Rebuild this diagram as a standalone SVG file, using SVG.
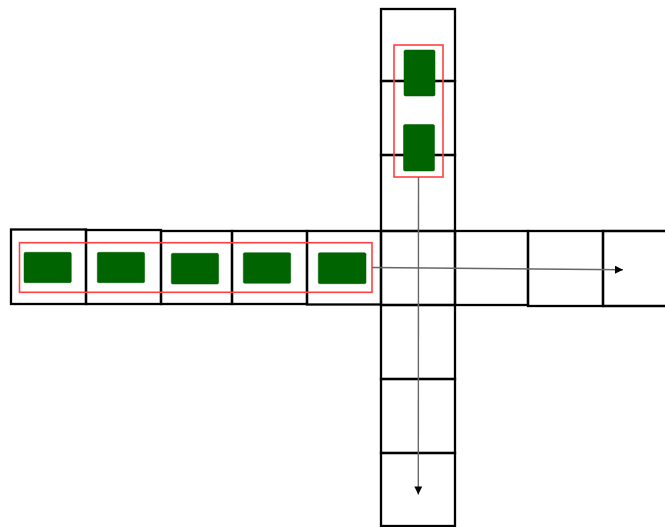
<svg xmlns="http://www.w3.org/2000/svg" width="665" height="527" viewBox="0 0 665 527">
<style>
.cell{fill:none;stroke:#000;stroke-width:2.3;stroke-linejoin:miter}
.car{fill:#006400;stroke:#005a00;stroke-width:0.5}
.grp{fill:none;stroke:#ff4040;stroke-width:1.6}
.conn{stroke:#666;stroke-width:1.4;fill:none}
</style>
<defs>
<marker id="ah" viewBox="0 0 10 10" refX="10" refY="5" markerWidth="9" markerHeight="8" markerUnits="userSpaceOnUse" orient="auto">
<path d="M0,0 L10,5 L0,10 z" fill="#000"/>
</marker>
</defs>
<rect width="665" height="527" fill="#fff"/>
<g id="road-column">
<rect class="cell" x="381" y="9" width="74" height="72"/>
<rect class="cell" x="381" y="81" width="74" height="74"/>
<rect class="cell" x="381" y="155" width="74" height="76"/>
<rect class="cell" x="381" y="305" width="74" height="74"/>
<rect class="cell" x="381" y="379" width="74" height="74"/>
<rect class="cell" x="381" y="453" width="74" height="73"/>
</g>
<g id="intersection">
<rect class="cell" x="381" y="231" width="74" height="74"/>
</g>
<g id="road-row">
<rect class="cell" x="11" y="229.5" width="75" height="74.5"/>
<rect class="cell" x="86" y="230" width="75" height="74"/>
<rect class="cell" x="161" y="231" width="71" height="73"/>
<rect class="cell" x="232" y="231" width="75" height="73"/>
<rect class="cell" x="307" y="231" width="74" height="73.5"/>
<rect class="cell" x="455" y="231" width="73" height="74"/>
<rect class="cell" x="528" y="231" width="75" height="75"/>
<path class="cell" d="M666,231 L603,231 L603,306 L666,306"/>
</g>
<g id="vertical-platoon">
<rect class="grp" x="394" y="45" width="49" height="132"/>
<rect class="car" x="404" y="50" width="31" height="46" rx="1.5"/>
<rect class="car" x="403.5" y="124.5" width="31" height="46.5" rx="1.5"/>
</g>
<g id="horizontal-platoon">
<rect class="grp" x="19.5" y="242.7" width="352.5" height="49.6"/>
<rect class="car" x="24" y="252.3" width="47.3" height="30.4" rx="1.5"/>
<rect class="car" x="97.3" y="252.3" width="47.3" height="30.4" rx="1.5"/>
<rect class="car" x="171.3" y="253.3" width="47.3" height="30.7" rx="1.5"/>
<rect class="car" x="243.3" y="252.7" width="47.4" height="30.6" rx="1.5"/>
<rect class="car" x="318.3" y="252.7" width="47.7" height="31" rx="1.5"/>
</g>
<g id="connectors">
<line class="conn" x1="372" y1="267.5" x2="623" y2="269.8" marker-end="url(#ah)"/>
<line class="conn" x1="418.5" y1="177" x2="418.3" y2="494.5" marker-end="url(#ah)"/>
</g>
</svg>
